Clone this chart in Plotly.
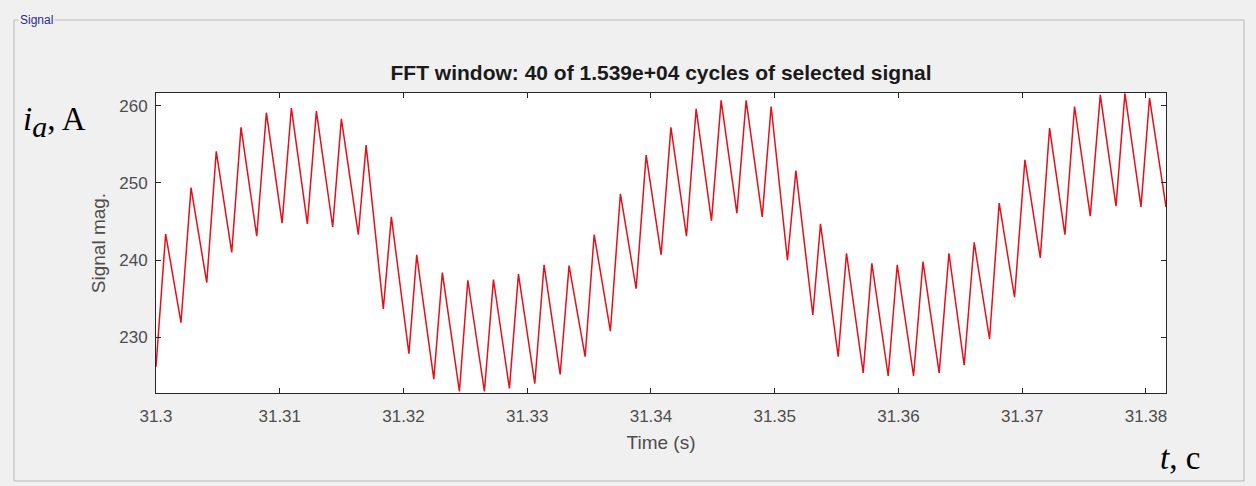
"""
FFT analysis signal window — phase current i_a.
"""

import plotly.graph_objects as go

# === Data: vertices of the phase current waveform (time in s, current in A) ===
TIME_S = [
    31.30000, 31.30078, 31.30202, 31.30283, 31.30410, 31.30487, 31.30612, 31.30687,
    31.30814, 31.30892, 31.31019, 31.31094, 31.31223, 31.31296, 31.31428, 31.31498,
    31.31635, 31.31698, 31.31837, 31.31902, 31.32044, 31.32107, 31.32245, 31.32314,
    31.32452, 31.32520, 31.32654, 31.32727, 31.32856, 31.32929, 31.33061, 31.33136,
    31.33266, 31.33338, 31.33468, 31.33541, 31.33672, 31.33753, 31.33880, 31.33961,
    31.34082, 31.34161, 31.34287, 31.34365, 31.34489, 31.34567, 31.34694, 31.34769,
    31.34899, 31.34971, 31.35103, 31.35171, 31.35308, 31.35370, 31.35513, 31.35580,
    31.35715, 31.35785, 31.35917, 31.35990, 31.36122, 31.36198, 31.36329, 31.36408,
    31.36531, 31.36612, 31.36736, 31.36814, 31.36938, 31.37022, 31.37146, 31.37221,
    31.37345, 31.37423, 31.37550, 31.37631, 31.37758, 31.37830, 31.37960, 31.38029,
    31.38162,
]
CURRENT_A = [
    226.2, 243.4, 231.9, 249.4, 237.1, 254.1, 241.0, 257.2,
    243.1, 259.1, 244.8, 259.7, 244.7, 259.3, 244.3, 258.3,
    243.3, 254.9, 233.7, 245.6, 227.9, 240.7, 224.6, 238.4,
    223.0, 237.4, 223.0, 237.5, 223.4, 238.2, 224.0, 239.4,
    225.2, 239.3, 227.5, 243.3, 230.8, 248.6, 236.3, 253.6,
    240.7, 257.2, 243.1, 259.6, 245.1, 260.7, 246.1, 260.7,
    245.6, 259.9, 240.0, 251.6, 232.9, 244.7, 227.5, 240.9,
    225.4, 239.6, 225.0, 239.4, 225.0, 239.8, 225.4, 240.9,
    226.4, 242.3, 229.8, 247.4, 235.2, 253.0, 240.3, 257.1,
    243.3, 259.9, 245.7, 261.4, 247.0, 261.6, 246.9, 261.0,
    246.9,
]

X_TICKS = [31.30, 31.31, 31.32, 31.33, 31.34, 31.35, 31.36, 31.37, 31.38]
X_TICK_TEXT = ["31.3", "31.31", "31.32", "31.33", "31.34", "31.35", "31.36", "31.37", "31.38"]
Y_TICKS = [230, 240, 250, 260]

TITLE = "FFT window: 40 of 1.539e+04 cycles of selected signal"

# === Colors ===
BG = "#f0f0f0"
AXIS = "#262626"
TICK_TEXT = "#4d4d4d"
SIGNAL_RED = "#e5101a"
PANEL_LINE = "#b9b9b9"
SANS = "Arial, Liberation Sans, sans-serif"
SERIF = "Liberation Serif, Times New Roman, serif"

fig = go.Figure()

fig.add_trace(go.Scatter(
    x=TIME_S, y=CURRENT_A,
    mode="lines",
    line=dict(color=SIGNAL_RED, width=1.5),
    showlegend=False,
))

axis_common = dict(
    showline=True, linecolor=AXIS, linewidth=1, mirror="ticks",
    ticks="inside", ticklen=5, tickcolor=AXIS, tickwidth=1,
    showgrid=False, zeroline=False,
    tickfont=dict(family=SANS, size=17, color=TICK_TEXT),
)

fig.update_layout(
    width=1256, height=486,
    margin=dict(l=156, r=90, t=93, b=93),
    paper_bgcolor=BG,
    plot_bgcolor="white",
    font=dict(family=SANS),
    title=dict(
        text="<b>" + TITLE + "</b>",
        x=0.5, xref="paper", xanchor="center",
        y=1 - 73 / 486, yref="container", yanchor="middle",
        font=dict(size=21, color="#1a1a1a"),
    ),
    xaxis=dict(
        range=[31.3, 31.38162], tickvals=X_TICKS, ticktext=X_TICK_TEXT,
        ticklabelstandoff=8,
        title=dict(text="Time (s)", font=dict(size=19, color=TICK_TEXT), standoff=10),
        **axis_common,
    ),
    yaxis=dict(
        range=[222.8, 261.65], tickvals=Y_TICKS, ticklabelstandoff=4,
        title=dict(text="Signal mag.", font=dict(size=19, color=TICK_TEXT), standoff=8),
        **axis_common,
    ),
)

# Group-box frame of the "Signal" panel (paper coords relative to the plot area)
px = lambda v: (v - 156) / 1010
py = lambda v: (393 - v) / 300
fig.add_shape(type="rect", xref="paper", yref="paper",
              x0=px(14), x1=px(1244), y0=py(481), y1=py(20),
              line=dict(color=PANEL_LINE, width=1), layer="below")
fig.add_annotation(text="Signal", xref="paper", yref="paper",
                   x=px(18), y=py(20), xanchor="left", yanchor="middle",
                   showarrow=False, bgcolor=BG, borderpad=1,
                   font=dict(family=SANS, size=12, color="#2b2b8f"))

# Axis quantity labels written in serif
fig.add_annotation(
    text="<i>i</i><sub><span style='font-size:30px'><i>a</i></span></sub>, A",
    xref="paper", yref="paper", x=px(21), y=py(122), xanchor="left", yanchor="middle",
    showarrow=False, font=dict(family=SERIF, size=33, color="black"))
fig.add_annotation(
    text="<i>t</i>, c",
    xref="paper", yref="paper", x=px(1158), y=py(458), xanchor="left", yanchor="middle",
    showarrow=False, font=dict(family=SERIF, size=33, color="black"))

# the page's default body margin would shift the figure by 8 px
fig.write_html("out.html", config={"displayModeBar": False},
               post_script="document.body.style.margin='0';")
